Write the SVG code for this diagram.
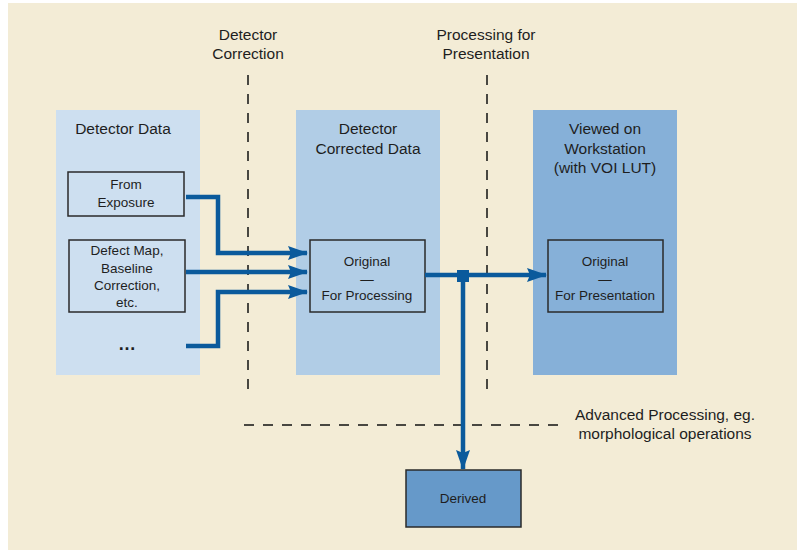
<svg xmlns="http://www.w3.org/2000/svg" width="797" height="550" viewBox="0 0 797 550">
<style>
text{font-family:"Liberation Sans",Arial,sans-serif;fill:#1e1e1e;text-anchor:middle}
.lab{font-size:15.5px}
.sm{font-size:13.5px}
.box{stroke:#2a2a2a;stroke-width:1.5}
.dash{stroke:#111;stroke-width:1.5;stroke-dasharray:10,9;fill:none}
.con{stroke:#0a5a9c;stroke-width:4.5;fill:none}
</style>
<defs>
<marker id="ah" markerUnits="userSpaceOnUse" markerWidth="20" markerHeight="14" refX="19" refY="7" orient="auto">
<path d="M0,0 L20,7 L0,14 L3,7 Z" fill="#0a5a9c"/>
</marker>
</defs>
<rect x="8" y="3" width="789" height="547" fill="#f3ecd6"/>
<g id="panel-detector-data">
<rect x="56" y="110" width="144" height="265" fill="#cddff0"/>
<text class="lab" x="123" y="134">Detector Data</text>
</g>
<g id="panel-corrected">
<rect x="296" y="110" width="144" height="265" fill="#b1cde6"/>
<text class="lab" x="368" y="134">Detector</text>
<text class="lab" x="368" y="154">Corrected Data</text>
</g>
<g id="panel-workstation">
<rect x="533" y="110" width="144" height="265" fill="#86b0d8"/>
<text class="lab" x="605" y="134">Viewed on</text>
<text class="lab" x="605" y="154">Workstation</text>
<text class="lab" x="605" y="173">(with VOI LUT)</text>
</g>
<g id="label-detector-correction">
<text class="lab" x="248" y="40">Detector</text>
<text class="lab" x="248" y="59">Correction</text>
</g>
<g id="label-processing-presentation">
<text class="lab" x="486" y="40">Processing for</text>
<text class="lab" x="486" y="59">Presentation</text>
</g>
<g id="label-advanced">
<text class="lab" x="665" y="420">Advanced Processing, eg.</text>
<text class="lab" x="665" y="439">morphological operations</text>
</g>
<g id="dividers">
<line class="dash" x1="248" y1="75" x2="248" y2="392"/>
<line class="dash" x1="487" y1="75" x2="487" y2="392"/>
<line class="dash" x1="244" y1="425" x2="562" y2="425"/>
</g>
<g id="node-from-exposure">
<rect class="box" x="68" y="172" width="116" height="44" fill="none"/>
<text class="sm" x="126" y="189">From</text>
<text class="sm" x="126" y="207">Exposure</text>
</g>
<g id="node-defect-map">
<rect class="box" x="69" y="240" width="116" height="72" fill="none"/>
<text class="sm" x="127" y="255">Defect Map,</text>
<text class="sm" x="127" y="273">Baseline</text>
<text class="sm" x="127" y="290">Correction,</text>
<text class="sm" x="127" y="307">etc.</text>
</g>
<g id="node-ellipsis">
<text x="127" y="350" style="font-size:18px;font-weight:bold">…</text>
</g>
<g id="node-original-processing">
<rect class="box" x="310" y="240" width="115" height="72" fill="none"/>
<text class="sm" x="367" y="266">Original</text>
<text class="sm" x="367" y="284">—</text>
<text class="sm" x="367" y="300">For Processing</text>
</g>
<g id="node-original-presentation">
<rect class="box" x="548" y="240" width="115" height="72" fill="none"/>
<text class="sm" x="605" y="266">Original</text>
<text class="sm" x="605" y="284">—</text>
<text class="sm" x="605" y="300">For Presentation</text>
</g>
<g id="node-derived">
<rect class="box" x="406" y="470" width="115" height="57" fill="#6699c9"/>
<text class="sm" x="463" y="503">Derived</text>
</g>
<g id="connectors">
<path class="con" d="M186,197 H218 V253 H307" marker-end="url(#ah)"/>
<path class="con" d="M186,272 H307" marker-end="url(#ah)"/>
<path class="con" d="M186,346 H218 V292 H307" marker-end="url(#ah)"/>
<path class="con" d="M425,275 H546" marker-end="url(#ah)"/>
<path class="con" d="M463,276 V469" marker-end="url(#ah)"/>
<rect x="457" y="270" width="12" height="12" fill="#0a5a9c"/>
</g>
</svg>
